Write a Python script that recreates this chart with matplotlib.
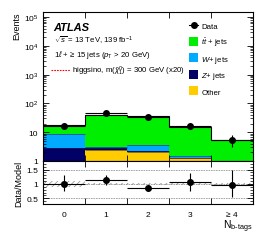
import numpy as np
import matplotlib
matplotlib.use("Agg")
import matplotlib.pyplot as plt
from matplotlib.lines import Line2D
from matplotlib.patches import Patch

plt.rcParams['font.family'] = ['Liberation Sans', 'DejaVu Sans']
plt.rcParams['hatch.linewidth'] = 0.5
plt.rcParams['mathtext.fontset'] = 'custom'
plt.rcParams['mathtext.rm'] = 'Liberation Sans'
plt.rcParams['mathtext.it'] = 'Liberation Sans:italic'

bins = [0, 1, 2, 3, 4]
bin_labels = ["0", "1", "2", "3", "≥ 4"]
other = [0.6, 2.45, 2.09, 1.24, 0.7]
zjets = [2.27, 0.42, 0.17, 0.06, 0.05]
wjets = [5.6, 0.18, 1.22, 0.15, 0.2]
ttbar = [9.0, 37.0, 32.5, 14.3, 4.4]
data = [16.5, 45.0, 35.0, 16.5, 5.4]
data_err_up = [5.0, 8.0, 4.0, 5.0, 2.7]
data_err_dn = [4.0, 7.0, 3.5, 4.0, 2.3]
mc_unc = [0.20, 0.10, 0.08, 0.10, 0.10]
signal_x20 = [0.05, 0.1, 0.15, 0.2, 0.25]
ratio = [1.0, 1.13, 0.87, 1.06, 0.98]
ratio_err_up = [0.30, 0.18, 0.10, 0.33, 0.50]
ratio_err_dn = [0.23, 0.16, 0.10, 0.30, 0.45]

c_other = '#ffcc00'
c_z = '#000066'
c_w = '#00aaff'
c_tt = '#00ee00'

x = np.array(bins, dtype=float)
edges = np.append(x - 0.5, x[-1] + 0.5)

fig = plt.figure(figsize=(2.66, 2.53), dpi=100)
ax = fig.add_axes([0.1617, 0.3597, 0.789, 0.589])
rx = fig.add_axes([0.1617, 0.1897, 0.789, 0.170], sharex=ax)

bottom = np.zeros(len(x))
for vals, col in [(other, c_other), (zjets, c_z), (wjets, c_w), (ttbar, c_tt)]:
    v = np.array(vals)
    ax.bar(x, v, width=1.0, bottom=bottom, color=col, edgecolor='none', zorder=1)
    bottom = bottom + v
total = bottom
cum = np.zeros(len(x))
for vals in [other, zjets, wjets]:
    cum = cum + np.array(vals)
    ax.hlines(cum, x - 0.5, x + 0.5, color='#222244', lw=0.4, zorder=2)

unc = total * np.array(mc_unc) * 0.25
ax.bar(x, 2 * unc, width=1.0, bottom=total - unc, color='none', edgecolor='#888888',
       hatch='//////', lw=0, zorder=3)
ax.stairs(total, edges, color='black', lw=0.8, baseline=None, zorder=3)
ax.stairs(signal_x20, edges, color='red', lw=0.8, ls=(0, (1.5, 1)), baseline=None, zorder=4)
ax.errorbar(x, data, yerr=[data_err_dn, data_err_up], xerr=0.5, fmt='o', color='black',
            ms=4, lw=0.8, capsize=0, zorder=5)

ax.set_yscale('log')
ax.set_ylim(1, 1.5e5)
ax.set_xlim(-0.5, 4.5)
ax.set_yticks([1, 10, 100, 1e3, 1e4, 1e5])
ax.set_yticklabels(['1', '10', '$10^2$', '$10^3$', '$10^4$', '$10^5$'])
ax.set_xticks(edges[1:-1])
ax.tick_params(axis='x', which='both', labelbottom=False)
ax.tick_params(which='both', direction='in', top=True, right=True, labelsize=6)
ax.tick_params(which='major', length=4, width=0.6)
ax.tick_params(which='minor', length=2, width=0.5)
ax.tick_params(axis='x', which='minor', length=0)
ax.set_ylabel('Events', fontsize=6.5, loc='top', labelpad=2)

ax.text(0.05, 0.9, 'ATLAS', transform=ax.transAxes, fontsize=8, fontweight='bold',
        fontstyle='italic', va='center')
ax.text(0.05, 0.81, r'$\sqrt{s}$ = 13 TeV, 139 fb$^{-1}$', transform=ax.transAxes,
        fontsize=5.6, va='center')
ax.text(0.05, 0.72, r'1$\ell$ + ≥ 15 jets ($p_{\rm T}$ > 20 GeV)', transform=ax.transAxes,
        fontsize=5.6, va='center')
ax.plot([0.04, 0.13], [0.61, 0.61], transform=ax.transAxes, color='red', lw=0.8,
        ls=(0, (1.5, 1)))
ax.text(0.14, 0.61, r'higgsino, m($\tilde{\chi}^{0}_{1}$) = 300 GeV (x20)',
        transform=ax.transAxes, fontsize=5.6, va='center')

handles = [
    Line2D([0], [0], color='black', marker='o', ms=4, lw=0.8),
    Patch(facecolor=c_tt, edgecolor='none'),
    Patch(facecolor=c_w, edgecolor='none'),
    Patch(facecolor=c_z, edgecolor='none'),
    Patch(facecolor=c_other, edgecolor='none'),
]
labels = [r'Data', r'$t\bar{t}$ + jets', r'$W$+ jets', r'$Z$+ jets', 'Other']
ax.legend(handles, labels, loc='upper left', bbox_to_anchor=(0.68, 0.96), frameon=False,
          fontsize=5.6, handlelength=1.2, handleheight=1.4, labelspacing=0.7,
          handletextpad=0.4, borderaxespad=0)

rb = np.array(mc_unc)
rx.bar(x, 2 * rb * 0.5, width=1.0, bottom=1 - rb * 0.5, color='none', edgecolor='#888888',
       hatch='//////', lw=0, zorder=1)
for yv in [0.5, 1.0, 1.5]:
    rx.axhline(yv, color='#999999', lw=0.6, ls=(0, (2, 1)), zorder=0)
rx.errorbar(x, ratio, yerr=[ratio_err_dn, ratio_err_up], xerr=0.5, fmt='o', color='black',
            ms=4, lw=0.8, capsize=0, zorder=5)
rx.set_ylim(0.3, 1.8)
rx.set_yticks([0.5, 1, 1.5])
rx.set_yticklabels(['0.5', '1', '1.5'])
rx.set_yticks(np.arange(0.4, 1.8, 0.1), minor=True)
rx.set_xticks(edges[1:-1])
rx.set_xticks(x, minor=True)
rx.set_xticklabels([], minor=False)
rx.set_xticklabels(bin_labels, minor=True)
rx.tick_params(which='both', direction='in', top=True, right=True, labelsize=6)
rx.tick_params(which='major', length=4, width=0.6)
rx.tick_params(which='minor', length=2, width=0.5)
rx.tick_params(axis='x', which='minor', length=0, pad=5)
rx.set_xlim(-0.5, 4.5)
rx.set_ylabel('Data/Model', fontsize=6.5, labelpad=2)
rx.set_xlabel(r'N$_{\rm b\text{-}tags}$', fontsize=7.5, loc='right', labelpad=0)

for a in (ax, rx):
    for s in a.spines.values():
        s.set_linewidth(0.8)

fig.savefig('out.png', dpi=100)
